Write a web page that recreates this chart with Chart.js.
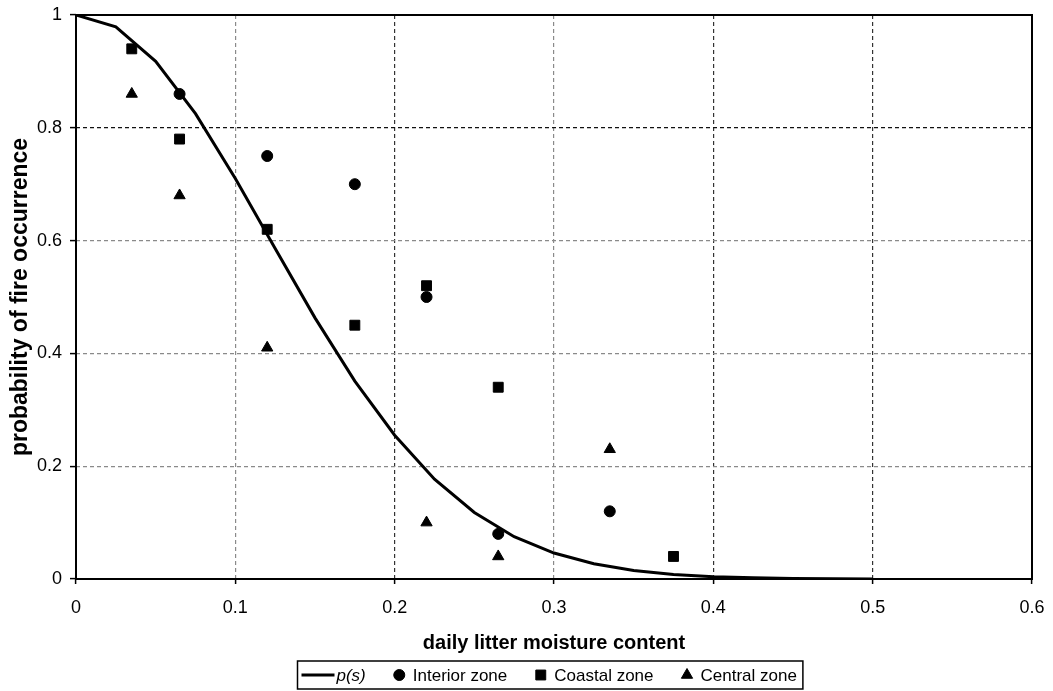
<!DOCTYPE html>
<html>
<head>
<meta charset="utf-8">
<script src="https://cdn.jsdelivr.net/npm/chart.js@4.4.1/dist/chart.umd.min.js"></script>
<style>
  html, body { margin: 0; padding: 0; background: #fff; }
  #wrap { width: 1053px; height: 691px; position: relative; }
</style>
</head>
<body>
<div id="wrap"><canvas id="chart"></canvas></div>
<script>
// observed fire occurrence by zone
const interiorX = [0.065, 0.12, 0.175, 0.22, 0.265, 0.335];
const interiorY = [0.86, 0.75, 0.70, 0.50, 0.08, 0.12];
const coastalX = [0.035, 0.065, 0.12, 0.175, 0.22, 0.265, 0.375];
const coastalY = [0.94, 0.78, 0.62, 0.45, 0.52, 0.34, 0.04];
const centralX = [0.035, 0.065, 0.12, 0.22, 0.265, 0.335];
const centralY = [0.86, 0.68, 0.41, 0.10, 0.04, 0.23];

// fitted p(s) curve
const curveX = [0, 0.025, 0.05, 0.075, 0.1, 0.125, 0.15, 0.175, 0.2, 0.225, 0.25,
  0.275, 0.3, 0.325, 0.35, 0.375, 0.4, 0.425, 0.45, 0.475, 0.5];
const curveY = [1.0, 0.979, 0.918, 0.825, 0.71, 0.586, 0.463, 0.351, 0.255, 0.177, 0.118,
  0.075, 0.046, 0.027, 0.015, 0.008, 0.004, 0.002, 0.001, 0.0005, 0.0002];

const xTicks = [0, 0.1, 0.2, 0.3, 0.4, 0.5, 0.6];
const xTickLabels = ['0', '0.1', '0.2', '0.3', '0.4', '0.5', '0.6'];
const yTicks = [0, 0.2, 0.4, 0.6, 0.8, 1];
const yTickLabels = ['0', '0.2', '0.4', '0.6', '0.8', '1'];

const FONT = '"Liberation Sans", Arial, sans-serif';
Chart.defaults.font.family = FONT;
Chart.defaults.color = '#000';

const pts = (xs, ys) => xs.map((x, i) => ({ x: x, y: ys[i] }));

// frame around the plot area
const frame = {
  id: 'frame',
  beforeDatasetsDraw(chart) {
    const { ctx, chartArea: a } = chart;
    ctx.save();
    ctx.strokeStyle = '#000';
    ctx.lineWidth = 2;
    ctx.strokeRect(a.left, a.top, a.right - a.left, a.bottom - a.top);
    ctx.restore();
  }
};

// boxed legend under the x axis title
const boxLegend = {
  id: 'boxLegend',
  afterDraw(chart) {
    const ctx = chart.ctx;
    const a = chart.chartArea;
    const size = 17;
    const padL = 4, padR = 6, itemGap = 28, boxTop = 661, boxH = 28;
    const items = chart.data.datasets.map(ds => {
      const isLine = ds.showLine;
      ctx.font = (isLine ? 'italic ' : '') + size + 'px ' + FONT;
      const tw = ctx.measureText(ds.label).width;
      const mw = isLine ? 33 : 11;
      const gap = isLine ? 2 : 8;
      return { ds, isLine, tw, mw, gap, w: mw + gap + tw };
    });
    const content = items.reduce((s, it) => s + it.w, 0) + itemGap * (items.length - 1);
    const boxW = padL + content + padR;
    const cx = (a.left + a.right) / 2 - 4;
    const left = Math.round(cx - boxW / 2) + 0.5;
    const midY = boxTop + boxH / 2;

    ctx.save();
    ctx.strokeStyle = '#000';
    ctx.lineWidth = 1.5;
    ctx.strokeRect(left, boxTop, boxW, boxH);

    let x = left + padL;
    items.forEach(it => {
      ctx.fillStyle = '#000';
      ctx.strokeStyle = '#000';
      if (it.isLine) {
        ctx.lineWidth = 3;
        ctx.beginPath();
        ctx.moveTo(x, midY);
        ctx.lineTo(x + it.mw, midY);
        ctx.stroke();
      } else {
        ctx.lineWidth = 1;
        Chart.helpers.drawPoint(ctx, {
          pointStyle: it.ds.pointStyle,
          radius: it.ds.pointRadius,
          rotation: 0,
          borderWidth: 1
        }, x + it.mw / 2, midY);
      }
      ctx.font = (it.isLine ? 'italic ' : '') + size + 'px ' + FONT;
      ctx.textBaseline = 'middle';
      ctx.textAlign = 'left';
      ctx.fillText(it.ds.label, x + it.mw + it.gap, midY + 1);
      x += it.w + itemGap;
    });
    ctx.restore();
  }
};

const marker = (label, xs, ys, style, r) => ({
  label: label,
  data: pts(xs, ys),
  pointStyle: style,
  pointRadius: r,
  pointHoverRadius: r,
  pointBackgroundColor: '#000',
  pointBorderColor: '#000',
  pointBorderWidth: 1,
  showLine: false,
  order: 0
});

new Chart(document.getElementById('chart'), {
  type: 'scatter',
  data: {
    datasets: [
      {
        label: 'p(s)',
        data: pts(curveX, curveY),
        showLine: true,
        borderColor: '#000',
        borderWidth: 3,
        pointRadius: 0,
        tension: 0,
        fill: false,
        order: 5
      },
      marker('Interior zone', interiorX, interiorY, 'circle', 5.5),
      marker('Coastal zone', coastalX, coastalY, 'rect', 7),
      marker('Central zone', centralX, centralY, 'triangle', 6.5)
    ]
  },
  options: {
    responsive: true,
    maintainAspectRatio: false,
    animation: false,
    layout: { autoPadding: false, padding: { left: 0, top: 15, right: 21, bottom: 31 } },
    plugins: {
      legend: { display: false },
      tooltip: { enabled: false }
    },
    scales: {
      x: {
        type: 'linear',
        min: 0,
        max: 0.6,
        afterBuildTicks: s => { s.ticks = xTicks.map(v => ({ value: v })); },
        afterFit: s => {
          s.height = 81;
          s.paddingLeft = 0;
          s.paddingRight = 0;
        },
        ticks: {
          padding: 13,
          maxRotation: 0,
          font: { size: 18 },
          callback: (v, i) => xTickLabels[i]
        },
        grid: {
          color: c => (c.tick && (c.tick.value === 0.2 || c.tick.value === 0.4 || c.tick.value === 0.5)) ? '#333' : '#8a8a8a',
          lineWidth: 1.2,
          drawTicks: true,
          tickLength: 5,
          tickColor: '#000',
          tickWidth: 1.5,
          tickBorderDash: []
        },
        border: { display: false, dash: [4, 3] },
        title: {
          display: true,
          text: 'daily litter moisture content',
          font: { size: 20, weight: 'bold' },
          padding: { top: 0, bottom: 5 }
        }
      },
      y: {
        type: 'linear',
        min: 0,
        max: 1,
        afterBuildTicks: s => { s.ticks = yTicks.map(v => ({ value: v })); },
        afterFit: s => {
          s.width = 76;
          s.paddingTop = 0;
          s.paddingBottom = 0;
        },
        ticks: {
          padding: 8,
          font: { size: 18 },
          callback: (v, i) => yTickLabels[i]
        },
        grid: {
          color: c => (c.tick && c.tick.value === 0.8) ? '#111' : '#8a8a8a',
          lineWidth: 1.2,
          drawTicks: true,
          tickLength: 6,
          tickColor: '#000',
          tickWidth: 1.5,
          tickBorderDash: []
        },
        border: { display: false, dash: [4, 3] },
        title: {
          display: true,
          text: 'probability of fire occurrence',
          font: { size: 23, weight: 'bold' },
          padding: { top: 7, bottom: 0 }
        }
      }
    }
  },
  plugins: [frame, boxLegend]
});
</script>
</body>
</html>
